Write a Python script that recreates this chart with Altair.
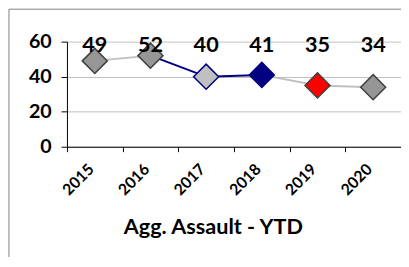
import altair as alt
import pandas as pd

years = ["2015", "2016", "2017", "2018", "2019", "2020"]
values = [49, 52, 40, 41, 35, 34]
fill_colors = ["#969696", "#969696", "#c0c0c0", "#000080", "#ff0000", "#969696"]
stroke_colors = ["#404040", "#404040", "#000080", "#000080", "#404040", "#404040"]
segment_colors = ["#c0c0c0", "#000080", "#000080", "#c0c0c0", "#c0c0c0"]
y_ticks = [0, 20, 40, 60]
title_text = "Agg. Assault - YTD"

FONT = "Lato"

pts = pd.DataFrame({"year": years, "value": values,
                    "fill": fill_colors, "stroke": stroke_colors})

seg_rows = []
for i, c in enumerate(segment_colors):
    seg_rows.append({"seg": i, "year": years[i], "value": values[i], "color": c})
    seg_rows.append({"seg": i, "year": years[i + 1], "value": values[i + 1], "color": c})
segs = pd.DataFrame(seg_rows)

xscale = alt.Scale(type="band", domain=years, paddingInner=0, paddingOuter=0)
yscale = alt.Scale(domain=[0, 60], nice=False)


def x_axis():
    return alt.Axis(title=None, tickBand="extent", tickSize=5, tickColor="black",
                    domainColor="black", labelAngle=-45, labelAlign="right",
                    labelBaseline="middle", labelFont=FONT, labelFontWeight="bold",
                    labelFontSize=16, labelColor="black", labelPadding=15,
                    labelOffset=-4, grid=False, labelOverlap=False)


def y_axis():
    return alt.Axis(title=None, values=y_ticks, grid=True, gridColor="#c0c0c0",
                    gridWidth=1, tickSize=6, tickColor="black", domainColor="black",
                    labelFont=FONT, labelFontWeight="bold", labelFontSize=20,
                    labelColor="black", labelPadding=10, labelOverlap=False)


lines = alt.Chart(segs).mark_line(strokeWidth=2).encode(
    x=alt.X("year:N", scale=xscale, axis=x_axis()),
    y=alt.Y("value:Q", scale=yscale, axis=y_axis()),
    detail="seg:N",
    color=alt.Color("color:N", scale=None),
)

points = alt.Chart(pts).mark_point(shape="diamond", filled=True, size=650,
                                   strokeWidth=1.5, opacity=1).encode(
    x=alt.X("year:N", scale=xscale, axis=x_axis()),
    y=alt.Y("value:Q", scale=yscale, axis=y_axis()),
    fill=alt.Fill("fill:N", scale=None),
    stroke=alt.Stroke("stroke:N", scale=None),
)

labels = alt.Chart(pts).mark_text(font=FONT, fontWeight="bold", fontSize=22,
                                  color="black", baseline="middle").encode(
    x=alt.X("year:N", scale=xscale, axis=x_axis()),
    y=alt.value(4),
    text="value:Q",
)

title = alt.Chart(pd.DataFrame({"t": [title_text]})).mark_text(
    font=FONT, fontWeight="bold", fontSize=22, color="black",
    align="center", baseline="alphabetic").encode(
    x=alt.value(149), y=alt.value(196), text="t:N")

frame_left = alt.Chart(pd.DataFrame({"a": [0]})).mark_rule(color="#808080", strokeWidth=1).encode(
    x=alt.value(-59), y=alt.value(-33), y2=alt.value(240))
frame_top = alt.Chart(pd.DataFrame({"a": [0]})).mark_rule(color="#808080", strokeWidth=1).encode(
    x=alt.value(-59), x2=alt.value(360), y=alt.value(-33))

chart = alt.layer(frame_left, frame_top, lines, points, labels, title).properties(
    width=340, height=107,
    autosize=alt.AutoSizeParams(type="none"),
    padding={"left": 60, "top": 32, "right": 0, "bottom": 110},
).configure_view(stroke=None)

chart.save("out.html", embed_options={"renderer": "svg", "actions": False})
